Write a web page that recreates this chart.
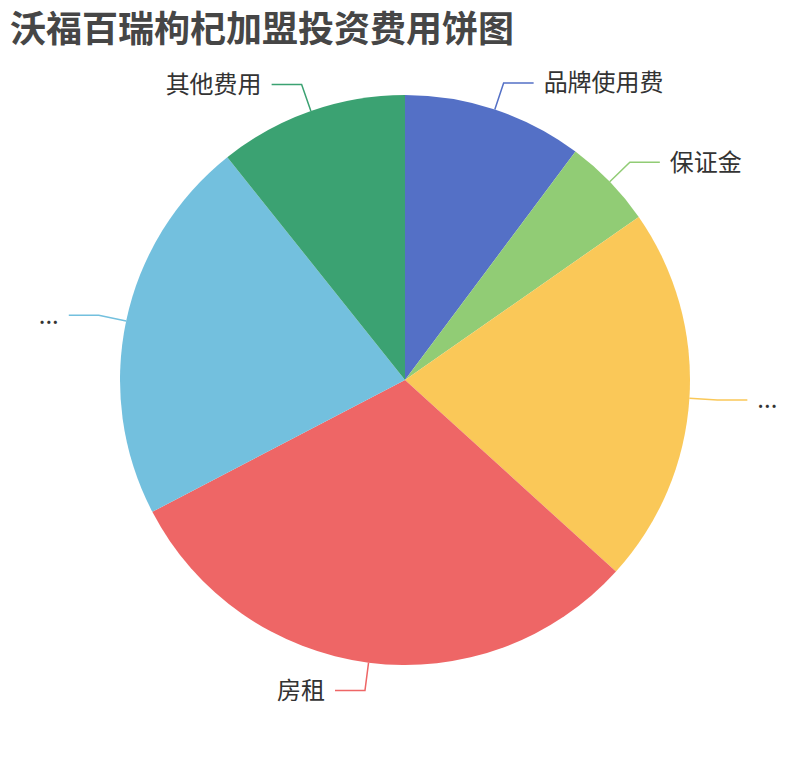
<!DOCTYPE html>
<html>
<head>
<meta charset="utf-8">
<script src="https://cdn.jsdelivr.net/npm/d3@7"></script>
<style>
  body { margin: 0; background: #fff; }
  svg { display: block; font-family: "Noto Sans CJK SC", "Noto Sans", sans-serif; }
</style>
</head>
<body>
<div class="chart"></div>
<script>
// 投资费用（万元）
const names = ["品牌使用费", "保证金", "装修费用", "房租", "设备费用", "其他费用"];
const amounts = [2, 1, 4.2, 6, 4.3, 2.1];
const colors = ["#5470c6", "#91cc75", "#fac858", "#ee6666", "#73c0de", "#3ba272"];
const titleText = "沃福百瑞枸杞加盟投资费用饼图";

const width = 810,
  height = 760,
  cx = 405,
  cy = 380,
  radius = 285,
  len1 = 28, // label line first segment
  len2 = 30, // label line second segment
  fontSize = 24;

const svg = d3
  .select(".chart")
  .append("svg")
  .attr("width", width)
  .attr("height", height);

svg
  .append("text")
  .attr("x", 10)
  .attr("y", 42)
  .attr("font-size", 36)
  .attr("font-weight", "bold")
  .attr("fill", "#464646")
  .text(titleText);

const data = names.map((n, i) => ({ name: n, value: amounts[i], color: colors[i] }));

const pie = d3
  .pie()
  .value(d => d.value)
  .sort(null);

const arc = d3
  .arc()
  .innerRadius(0)
  .outerRadius(radius);

const g = svg.append("g").attr("transform", `translate(${cx},${cy})`);

const arcs = pie(data);

g.selectAll("path")
  .data(arcs)
  .join("path")
  .attr("d", arc)
  .attr("fill", d => d.data.color);

// point on a circle of radius r at pie angle a
function polar(a, r) {
  return [r * Math.sin(a), -r * Math.cos(a)];
}

// the text gets "..." when it does not fit before the edge
function fitLabel(name, x, right) {
  const avail = right ? width - (cx + x) - 10 : cx + x - 10;
  const w = name.length * fontSize;
  return w > avail ? "..." : name;
}

const labels = g.append("g");

arcs.forEach(d => {
  const a = (d.startAngle + d.endAngle) / 2;
  const right = Math.sin(a) >= 0;
  const p1 = polar(a, radius);
  const p2 = polar(a, radius + len1);
  const p3 = [p2[0] + (right ? len2 : -len2), p2[1]];

  labels
    .append("polyline")
    .attr("points", [p1, p2, p3].map(p => p.join(",")).join(" "))
    .attr("fill", "none")
    .attr("stroke", d.data.color)
    .attr("stroke-width", 1.5);

  const tx = p3[0] + (right ? 10 : -10);
  labels
    .append("text")
    .attr("x", tx)
    .attr("y", p3[1])
    .attr("dy", "0.35em")
    .attr("text-anchor", right ? "start" : "end")
    .attr("font-size", fontSize)
    .attr("fill", "#333")
    .text(fitLabel(d.data.name, tx, right));
});
</script>
</body>
</html>
